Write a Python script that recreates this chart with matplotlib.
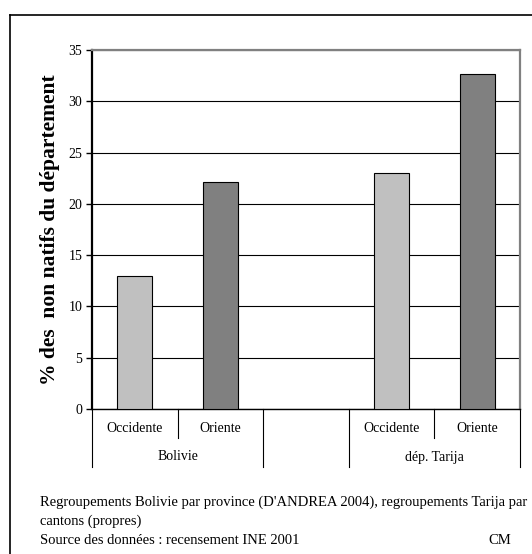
import matplotlib
matplotlib.use("Agg")
import matplotlib.pyplot as plt
import matplotlib.transforms as mtransforms
from matplotlib.lines import Line2D

plt.rcParams['font.family'] = ['Liberation Serif', 'DejaVu Serif']

categories = ["Occidente", "Oriente", "", "Occidente", "Oriente"]
groups = ["Bolivie", "", "dép. Tarija"]
values = [13.0, 22.1, None, 23.0, 32.7]
bar_colors = ["#C0C0C0", "#808080", "#FFFFFF", "#C0C0C0", "#808080"]
yticks = [0, 5, 10, 15, 20, 25, 30, 35]
ylabel = "% des  non natifs du département"
notes = ["Regroupements Bolivie par province (D'ANDREA 2004), regroupements Tarija par",
         "cantons (propres)",
         "Source des données : recensement INE 2001"]
credit = "CM"

W, H = 532, 554
fig = plt.figure(figsize=(W / 100, H / 100), dpi=100)
fig.patch.set_facecolor("white")

# outer frame
fig.add_artist(Line2D([10 / W, 10 / W], [0, 1 - 15 / H], color="black", lw=1.2, transform=fig.transFigure))
fig.add_artist(Line2D([10 / W, 1], [1 - 15 / H, 1 - 15 / H], color="black", lw=1.2, transform=fig.transFigure))

ax = fig.add_axes([92 / W, (H - 409) / H, 428 / W, 359 / H])
ax.set_xlim(0, len(categories))
ax.set_ylim(0, 35)

for i, v in enumerate(values):
    if v is None:
        continue
    ax.bar(i + 0.5, v, width=0.41, color=bar_colors[i], edgecolor="black", linewidth=0.8, zorder=3)

ax.set_yticks(yticks)
ax.tick_params(axis="y", direction="out", length=4, width=1, labelsize=10, pad=3)
ax.set_xticks([])
ax.yaxis.grid(True, color="black", lw=0.8, zorder=0)
ax.set_axisbelow(True)

ax.spines["left"].set_color("black")
ax.spines["left"].set_linewidth(1.6)
ax.spines["bottom"].set_color("black")
ax.spines["bottom"].set_linewidth(1.0)
ax.spines["top"].set_color("#808080")
ax.spines["top"].set_linewidth(1.6)
ax.spines["right"].set_color("#808080")
ax.spines["right"].set_linewidth(1.6)

trans = mtransforms.blended_transform_factory(ax.transData, ax.transAxes)
short = -(438 - 409) / 359
long_ = -(467 - 409) / 359
# category tick lines
for x in range(0, len(categories) + 1):
    y0 = short if x in (1, 4) else long_
    ax.plot([x, x], [0, y0], color="black", lw=0.8, transform=trans, clip_on=False)

for i, c in enumerate(categories):
    if c:
        ax.text(i + 0.5, -(428 - 409) / 359, c, transform=trans, ha="center", va="center", fontsize=10)

group_centers = [1.0, 2.5, 4.0]
for g, gc in zip(groups, group_centers):
    if g:
        ax.text(gc, -(457 - 409) / 359, g, transform=trans, ha="center", va="center", fontsize=10)

ax.set_ylabel(ylabel, fontsize=15.5, fontweight="bold", labelpad=6)

note_y = [502, 521, 541]
for line, yy in zip(notes, note_y):
    fig.text(40 / W, 1 - yy / H, line, ha="left", va="center", fontsize=10.5)
fig.text(488 / W, 1 - 541 / H, credit, ha="left", va="center", fontsize=10.5)

fig.savefig("out.png", dpi=100, facecolor="white")
